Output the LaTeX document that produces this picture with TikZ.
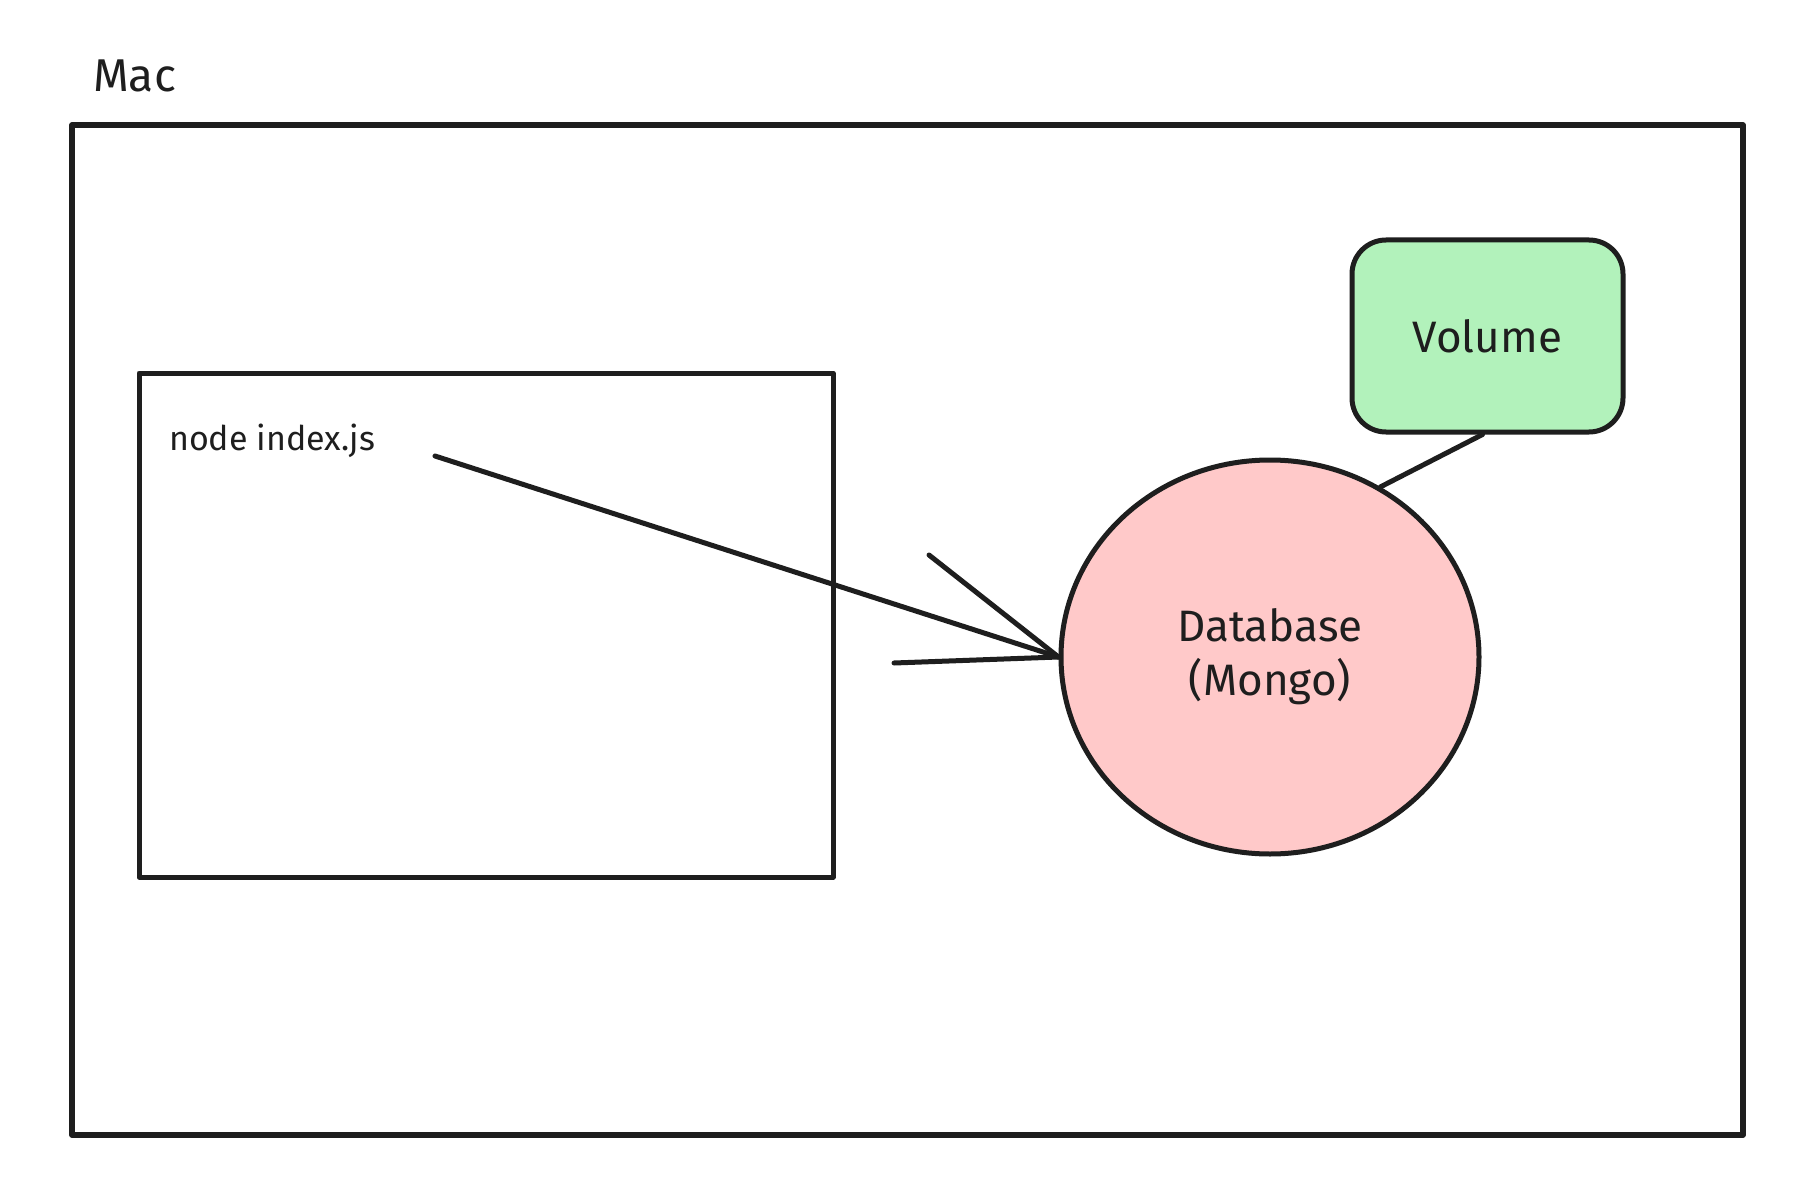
\documentclass[tikz,border=0pt]{standalone}
\usepackage{fontspec}
\setmainfont{Fira Sans}
\usetikzlibrary{shapes.geometric}
\definecolor{ink}{HTML}{1E1E1E}
\definecolor{dbfill}{HTML}{FFC9C9}
\definecolor{volfill}{HTML}{B2F2BB}
\tikzset{
  box/.style={draw=ink, line width=5.5pt, rectangle, inner sep=0pt, line join=round},
  lbl/.style={text=ink, inner sep=0pt, anchor=west},
  conn/.style={draw=ink, line width=5pt, line cap=round},
}
\begin{document}
\begin{tikzpicture}[x=1pt,y=-1pt]
\useasboundingbox (0,0) rectangle (1820,1182);
\fill[white] (0,0) rectangle (1820,1182);
% outer Mac frame
\node[box, minimum width=1671pt, minimum height=1010pt] (mac) at (907.5,630) {};
\node[lbl, font=\fontsize{46}{52}\selectfont] (maclbl) at (93,76) {Mac};
% inner process box
\node[box, line width=5pt, minimum width=694pt, minimum height=504pt] (proc) at (486,625) {};
\node[lbl, font=\fontsize{34}{40}\selectfont] (proclbl) at (169,441) {node index.js};
% database
\node[ellipse, draw=ink, fill=dbfill, line width=5pt, minimum width=418pt, minimum height=394pt, inner sep=0pt,
      align=center, font=\fontsize{44}{54}\selectfont, text=ink] (db) at (1270,657) {Database\\(Mongo)};
% volume
\node[box, line width=5pt, fill=volfill, rounded corners=34pt, minimum width=271pt, minimum height=192pt,
      font=\fontsize{44}{50}\selectfont, text=ink] (vol) at (1487.5,336) {Volume};
% connectors
\coordinate (src) at (435,456);
\coordinate (barbA) at (929,555);
\coordinate (barbB) at (894,663);
\draw[conn] (src) -- (db.west);
\draw[conn] (barbA) -- (db.west);
\draw[conn] (barbB) -- (db.west);
\draw[conn] ([xshift=-5pt]vol.south) -- (db.57);
\end{tikzpicture}
\end{document}
